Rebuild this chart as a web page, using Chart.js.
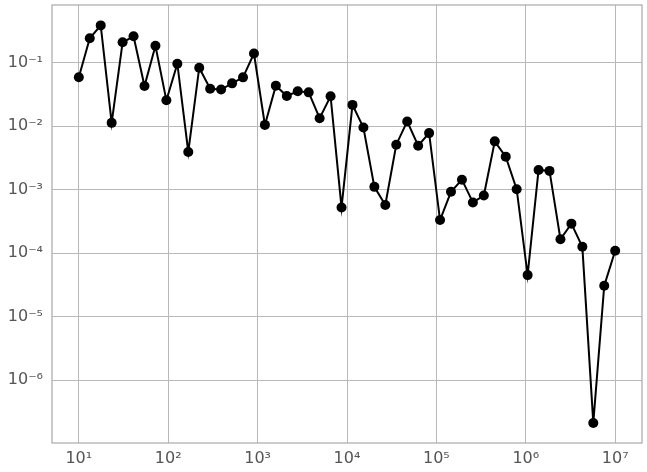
<!DOCTYPE html>
<html>
<head>
<meta charset="utf-8">
<script src="https://cdn.jsdelivr.net/npm/chart.js@4.4.0/dist/chart.umd.min.js"></script>
<style>
  html, body { margin: 0; padding: 0; background: #fff; }
  canvas { display: block; }
</style>
</head>
<body>
<canvas id="myChart" width="647" height="472"></canvas>
<script>
// sample positions (log spaced, 10 .. 1e7)
var xValues = [10, 13.26, 17.58, 23.30, 30.89, 40.95, 54.29, 71.97, 95.41, 126.5,
    167.7, 222.3, 294.7, 390.7, 517.9, 686.6, 910.3, 1206.8, 1599.9, 2120.9,
    2811.8, 3727.6, 4941.7, 6551.3, 8685.1, 11514, 15264, 20236, 26827, 35565,
    47149, 62506, 82864, 109854, 145635, 193070, 255955, 339322, 449843, 596362,
    790604, 1048113, 1389495, 1842070, 2442053, 3237458, 4291934, 5689866, 7543120, 10000000];

var yValues = [0.059, 0.243, 0.388, 0.0113, 0.21, 0.261, 0.043, 0.185, 0.0256, 0.0965,
    0.00393, 0.0835, 0.039, 0.0378, 0.0474, 0.0589, 0.140, 0.0105, 0.0436, 0.030,
    0.0355, 0.0342, 0.0134, 0.0297, 5.26e-4, 0.0217, 0.00957, 0.00111, 5.74e-4, 0.00512,
    0.0119, 0.00493, 0.0078, 3.33e-4, 9.27e-4, 0.00144, 6.31e-4, 8.1e-4, 0.00578, 0.00332,
    0.00102, 4.52e-5, 0.00205, 0.00198, 1.66e-4, 2.92e-4, 1.26e-4, 2.12e-7, 3.08e-5, 1.09e-4];

var xTicks = [1e1, 1e2, 1e3, 1e4, 1e5, 1e6, 1e7];
var xTickLabels = ['10¹', '10²', '10³', '10⁴', '10⁵', '10⁶', '10⁷'];
var yTicks = [1e-6, 1e-5, 1e-4, 1e-3, 1e-2, 1e-1];
var yTickLabels = ['10⁻⁶', '10⁻⁵', '10⁻⁴', '10⁻³', '10⁻²', '10⁻¹'];

var points = xValues.map(function (x, i) { return { x: x, y: yValues[i] }; });

function labelFor(ticks, labels, v) {
    for (var i = 0; i < ticks.length; i++) {
        if (Math.abs(Math.log10(v) - Math.log10(ticks[i])) < 1e-6) return labels[i];
    }
    return '';
}

// box around the plot area
var frame = {
    id: 'frame',
    afterDatasetsDraw: function (chart) {
        var a = chart.chartArea, c = chart.ctx;
        c.save();
        c.strokeStyle = '#a8a8a8';
        c.lineWidth = 1.2;
        c.strokeRect(a.left, a.top, a.right - a.left, a.bottom - a.top);
        c.restore();
    }
};

var ctx = document.getElementById('myChart').getContext('2d');
var myChart = new Chart(ctx, {
    type: 'line',
    data: {
        datasets: [{
            data: points,
            borderColor: '#000',
            backgroundColor: '#000',
            borderWidth: 2,
            pointRadius: 5,
            pointBackgroundColor: '#000',
            pointBorderWidth: 0,
            tension: 0,
            fill: false
        }]
    },
    plugins: [frame],
    options: {
        responsive: false,
        animation: false,
        layout: { padding: { top: 3, right: 5, left: 0, bottom: 0 } },
        plugins: {
            legend: { display: false },
            tooltip: { enabled: false }
        },
        scales: {
            x: {
                type: 'logarithmic',
                min: Math.pow(10, 0.70),
                max: Math.pow(10, 7.30),
                afterBuildTicks: function (s) { s.ticks = xTicks.map(function (v) { return { value: v }; }); },
                afterFit: function (s) { s.height = 29; s.paddingLeft = 0; s.paddingRight = 0; },
                grid: { color: '#b8b8b8', lineWidth: 1, drawTicks: false },
                border: { display: false },
                ticks: {
                    autoSkip: false,
                    maxRotation: 0,
                    padding: 6,
                    color: '#555',
                    font: { family: 'DejaVu Sans', size: 16 },
                    callback: function (v) { return labelFor(xTicks, xTickLabels, v); }
                }
            },
            y: {
                type: 'logarithmic',
                min: Math.pow(10, -6.99),
                max: Math.pow(10, -0.09),
                afterBuildTicks: function (s) { s.ticks = yTicks.map(function (v) { return { value: v }; }); },
                afterFit: function (s) { s.width = 52; s.paddingTop = 0; s.paddingBottom = 0; },
                grid: { color: '#b8b8b8', lineWidth: 1, drawTicks: false },
                border: { display: false },
                ticks: {
                    autoSkip: false,
                    padding: 9,
                    color: '#555',
                    font: { family: 'DejaVu Sans', size: 16 },
                    callback: function (v) { return labelFor(yTicks, yTickLabels, v); }
                }
            }
        }
    }
});
</script>
</body>
</html>
